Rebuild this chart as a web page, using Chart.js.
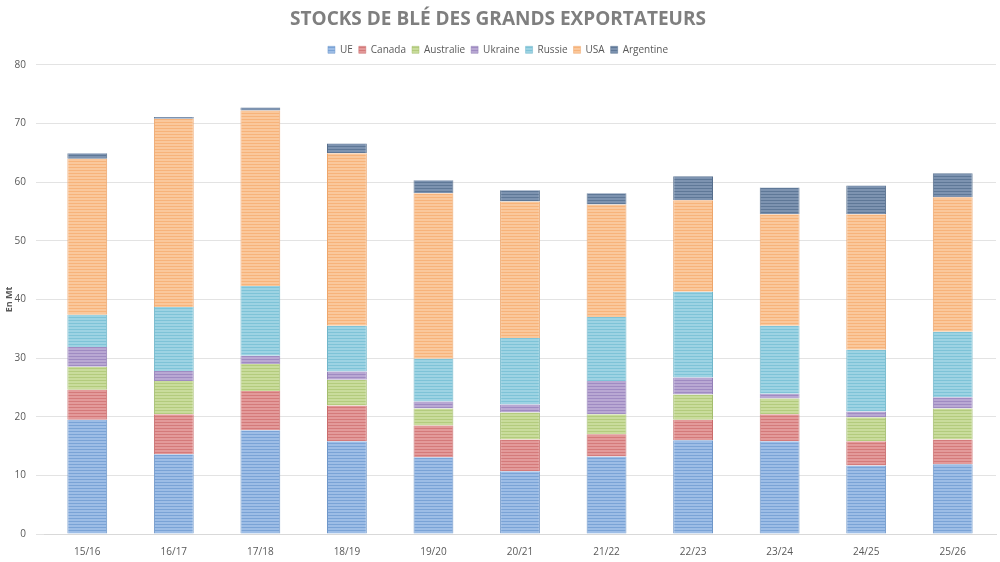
<!DOCTYPE html>
<html><head><meta charset="utf-8">
<script src="https://cdn.jsdelivr.net/npm/chart.js@4"></script>
<style>html,body{margin:0;background:#fff}#wrap{width:1000px;height:562px}</style>
</head><body><div id="wrap"><canvas id="c"></canvas></div>
<script>
const labels = ['15/16','16/17','17/18','18/19','19/20','20/21','21/22','22/23','23/24','24/25','25/26'];
const ue        = [19.5,13.6,17.7,15.8,13.1,10.7,13.2,16.0,15.8,11.7,11.9];
const canada    = [5.1,6.8,6.7,6.1,5.4,5.4,3.8,3.5,4.6,4.1,4.2];
const australie = [3.9,5.7,4.6,4.4,2.9,4.6,3.4,4.3,2.7,4.1,5.3];
const ukraine   = [3.4,1.7,1.4,1.4,1.2,1.4,5.7,2.9,0.8,1.0,1.9];
const russie    = [5.5,10.9,11.9,7.8,7.3,11.3,10.9,14.6,11.6,10.5,11.2];
const usa       = [26.6,32.1,29.9,29.4,28.2,23.3,19.2,15.6,19.0,23.1,22.9];
const argentine = [0.9,0.3,0.5,1.7,2.2,1.9,1.9,4.1,4.6,4.9,4.1];

// striped fill like the reference
function stripes(fill, line) {
    const p = document.createElement('canvas');
    p.width = 4; p.height = 3;
    const g = p.getContext('2d');
    g.fillStyle = fill; g.fillRect(0, 0, 4, 3);
    g.fillStyle = line; g.fillRect(0, 2, 4, 1);
    return g.createPattern(p, 'repeat');
}
function ds(label, data, fill, line, border) {
    return { label, data, backgroundColor: stripes(fill, line), borderColor: border,
             borderWidth: {left:1,right:1,top:0,bottom:0}, barPercentage: 0.46, categoryPercentage: 1 };
}
new Chart(document.getElementById('c'), {
    type: 'bar',
    data: {
        labels,
        datasets: [
            ds('UE', ue, '#9dbde6', '#7aa3d6', '#6f97c9'),
            ds('Canada', canada, '#e39a9a', '#d47a7a', '#c96c6c'),
            ds('Australie', australie, '#c9dc9c', '#b3cb7d', '#a4bd6e'),
            ds('Ukraine', ukraine, '#b9a8d3', '#9f8bc2', '#9380b7'),
            ds('Russie', russie, '#9dd3e3', '#7ec3d7', '#70b6ca'),
            ds('USA', usa, '#fac89c', '#f7b37a', '#eda66c'),
            ds('Argentine', argentine, '#7d93b0', '#5f7897', '#566e8c')
        ]
    },
    options: {
        responsive: true, maintainAspectRatio: false, animation: false,
        layout: { padding: { left: 0, right: 4, top: 6, bottom: 0 } },
        plugins: {
            title: { display: true, text: 'STOCKS DE BLÉ DES GRANDS EXPORTATEURS', color: '#7f7f7f',
                     font: { family: 'Open Sans', size: 19, weight: 'bold' }, padding: { top: 2, bottom: 8 } },
            legend: { labels: { boxWidth: 7, boxHeight: 7, color: '#595959', padding: 6,
                      font: { family: 'Open Sans', size: 10 } } },
            tooltip: { enabled: false }
        },
        scales: {
            x: { stacked: true, grid: { display: false }, border: { color: '#d9d9d9' },
                 ticks: { color: '#595959', padding: 4, font: { family: 'Open Sans', size: 10 } } },
            y: { stacked: true, min: 0, max: 80, border: { display: false },
                 afterFit: (s) => { s.width = 44; },
                 ticks: { stepSize: 10, color: '#595959', padding: 10, font: { family: 'Open Sans', size: 10 } },
                 grid: { color: '#e3e3e3' },
                 title: { display: true, text: 'En Mt', color: '#595959', font: { family: 'Open Sans', size: 9, weight: 'bold' } } }
        }
    }
});
</script></body></html>
